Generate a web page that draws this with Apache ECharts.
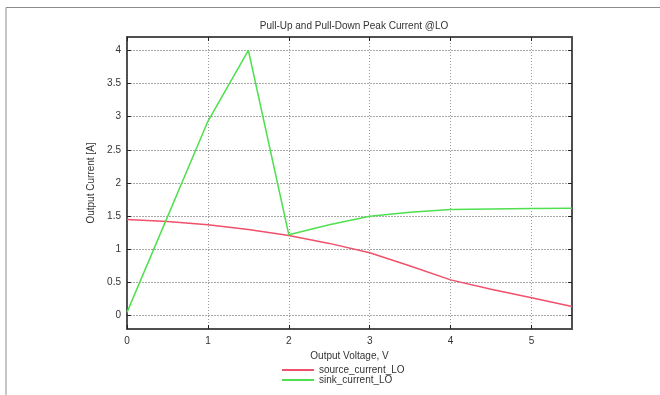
<!DOCTYPE html>
<html>
<head>
<meta charset="utf-8">
<script src="https://cdn.jsdelivr.net/npm/echarts@6/dist/echarts.min.js"></script>
<style>
  html, body { margin: 0; padding: 0; background: #fff; }
  #chart { width: 660px; height: 395px; }
</style>
</head>
<body>
<div id="chart"></div>
<script>
// Output voltage sweep points (V)
var voltage = [0, 0.5, 1, 1.5, 2, 2.5, 3, 3.5, 4, 4.5, 5, 5.5];
// Pull-up (source) peak current at LO (A)
var sourceCurrent = [1.45, 1.42, 1.37, 1.30, 1.21, 1.09, 0.95, 0.75, 0.54, 0.40, 0.27, 0.14];
// Pull-down (sink) peak current at LO (A)
var sinkCurrent = [0.05, 1.49, 2.93, 4.0, 1.22, 1.37, 1.5, 1.56, 1.6, 1.61, 1.615, 1.62];

var xTicks = [0, 1, 2, 3, 4, 5];
var yTicks = [0, 0.5, 1, 1.5, 2, 2.5, 3, 3.5, 4];

var seriesNames = ['source_current_LO', 'sink_current_LO'];

function pairs(xs, ys) {
  return xs.map(function (x, i) { return [x, ys[i]]; });
}

var textColor = '#333';
var font = 'Liberation Sans, Arial, sans-serif';

var chart = echarts.init(document.getElementById('chart'), null, { renderer: 'canvas' });

var hGridStyle = { color: '#a8a8a8', width: 1, type: [2, 1] };
var vGridStyle = { color: '#999', width: 1, type: [1, 2] };

chart.setOption({
  animation: false,
  backgroundColor: '#fff',
  title: {
    text: 'Pull-Up and Pull-Down Peak Current @LO',
    left: 349,
    textAlign: 'center',
    top: 16,
    textStyle: { fontSize: 10, fontWeight: 'normal', color: textColor, fontFamily: font }
  },
  graphic: [
    { type: 'polyline', silent: true,
      shape: { points: [[6, 395], [6, 7.5], [660, 7.5]] },
      style: { stroke: '#8c8c8c', lineWidth: 1, fill: null } }
  ],
  legend: {
    orient: 'vertical',
    left: 277,
    top: 360,
    itemWidth: 32,
    itemHeight: 2,
    itemGap: 0,
    icon: 'rect',
    data: seriesNames,
    textStyle: { fontSize: 10, color: textColor, fontFamily: font, padding: [0, 0, 0, 0] }
  },
  grid: {
    left: 127, right: 88, top: 37, bottom: 66,
    show: true, borderColor: '#444', borderWidth: 1.5, backgroundColor: '#fff'
  },
  xAxis: [
    {
      type: 'value', min: 0, max: 5.5, position: 'bottom',
      name: 'Output Voltage, V', nameLocation: 'middle', nameGap: 21,
      nameTextStyle: { fontSize: 10, color: textColor, fontFamily: font },
      axisLine: { show: true, onZero: false, lineStyle: { color: '#444', width: 1.5 } },
      axisTick: { show: true, inside: true, length: 4, customValues: xTicks, lineStyle: { color: '#222', width: 1 } },
      axisLabel: { customValues: xTicks, fontSize: 10, color: textColor, fontFamily: font, margin: 7 },
      splitLine: { show: true, lineStyle: vGridStyle }
    },
    {
      type: 'value', min: 0, max: 5.5, position: 'top',
      axisLine: { show: true, onZero: false, lineStyle: { color: '#444', width: 1.5 } },
      axisTick: { show: true, inside: true, length: 4, customValues: xTicks, lineStyle: { color: '#222', width: 1 } },
      axisLabel: { show: false },
      splitLine: { show: false }
    }
  ],
  yAxis: [
    {
      type: 'value', min: -0.2, max: 4.2, position: 'left',
      name: 'Output Current [A]', nameLocation: 'middle', nameGap: 27, nameRotate: 90,
      nameTextStyle: { fontSize: 10, color: textColor, fontFamily: font },
      axisLine: { show: true, onZero: false, lineStyle: { color: '#444', width: 1.5 } },
      axisTick: { show: true, inside: true, length: 4, customValues: yTicks, lineStyle: { color: '#222', width: 1 } },
      axisLabel: { customValues: yTicks, fontSize: 10, color: textColor, fontFamily: font, margin: 6 },
      splitLine: { show: true, lineStyle: hGridStyle }
    },
    {
      type: 'value', min: -0.2, max: 4.2, position: 'right',
      axisLine: { show: true, onZero: false, lineStyle: { color: '#444', width: 1.5 } },
      axisTick: { show: true, inside: true, length: 4, customValues: yTicks, lineStyle: { color: '#222', width: 1 } },
      axisLabel: { show: false },
      splitLine: { show: false }
    }
  ],
  series: [
    {
      name: seriesNames[0], type: 'line', xAxisIndex: 0, yAxisIndex: 0,
      data: pairs(voltage, sourceCurrent),
      showSymbol: false, smooth: false,
      itemStyle: { color: '#f0506a' },
      lineStyle: { color: '#f0506a', width: 1.5 }
    },
    {
      name: seriesNames[1], type: 'line', xAxisIndex: 0, yAxisIndex: 0,
      data: pairs(voltage, sinkCurrent),
      showSymbol: false, smooth: false,
      itemStyle: { color: '#4fe04f' },
      lineStyle: { color: '#4fe04f', width: 1.5 }
    }
  ]
});
</script>
</body>
</html>
